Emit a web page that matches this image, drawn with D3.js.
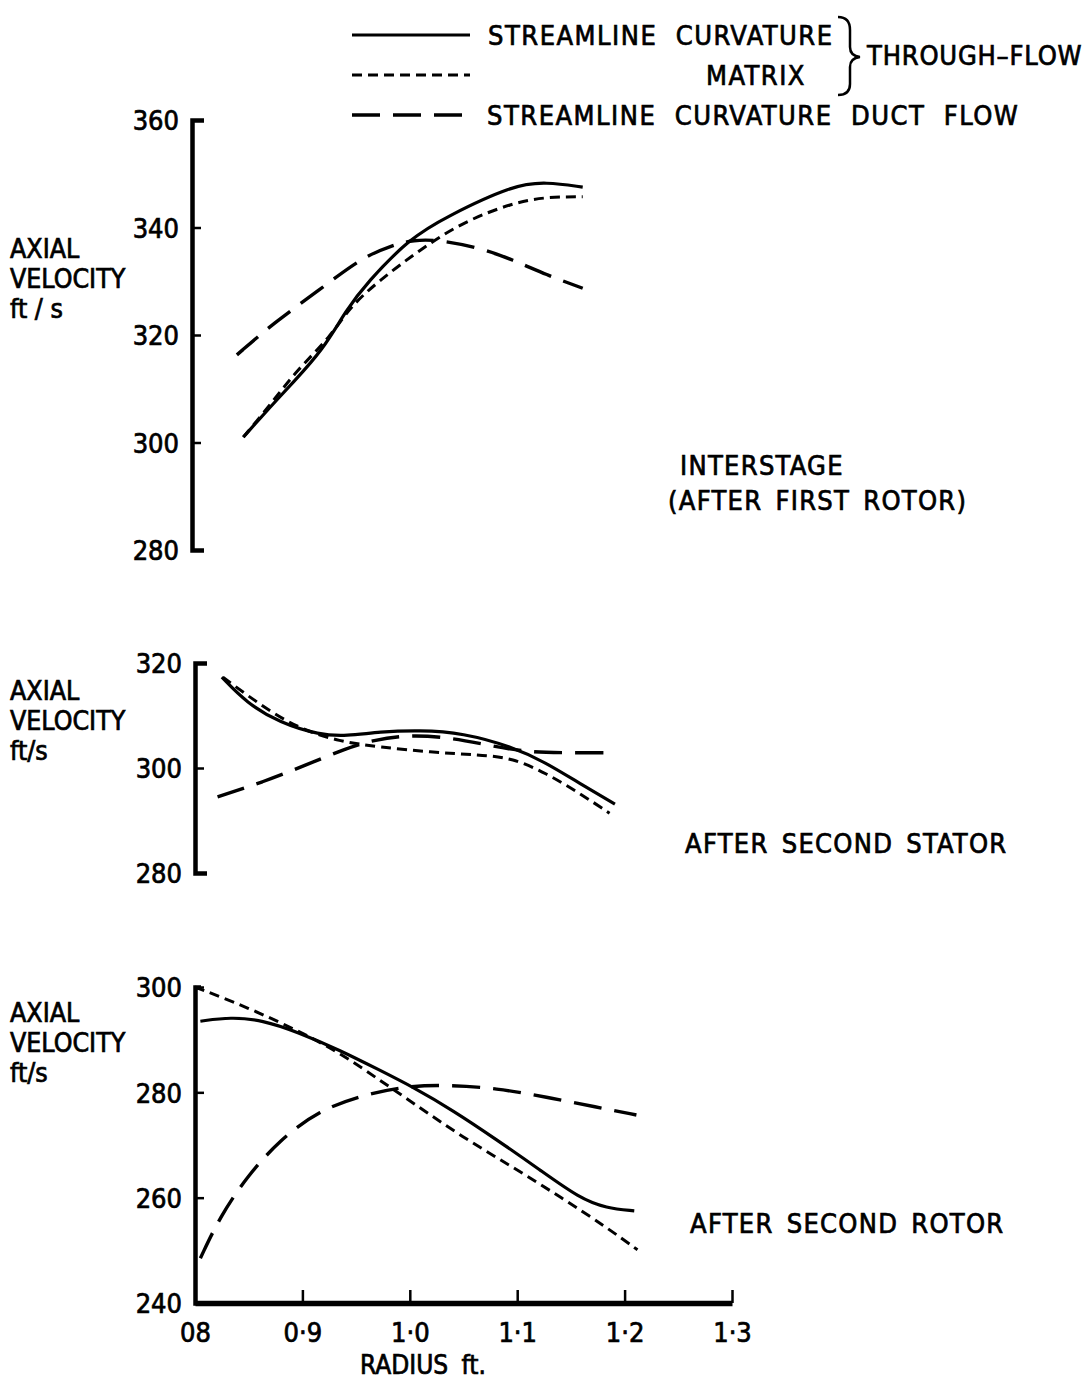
<!DOCTYPE html>
<html>
<head>
<meta charset="utf-8">
<script src="https://cdn.jsdelivr.net/npm/d3@7"></script>
<style>
  body { margin: 0; background: #fff; }
  svg text { font-family: "DejaVu Sans Condensed", "DejaVu Sans", sans-serif; fill: #000; stroke: #000; stroke-width: 0.7px; }
  .axis path, .axis line { stroke: #000; }
  .axis text { font-size: 27px; }
</style>
</head>
<body>
<svg id="chart" width="1092" height="1379"></svg>
<script>
/*
Axial velocity vs radius for three stations, three calculation methods
*/
var svg = d3.select("#chart");

// radius ticks along the bottom
var radiusTicks = [0.8, 0.9, 1.0, 1.1, 1.2, 1.3];
var radiusLabels = ["08", "0·9", "1·0", "1·1", "1·2", "1·3"];

// interstage (after first rotor) : [radius ft, axial velocity ft/s]
var interSC = [[0.845,301.0],[0.870,306.6],[0.891,311.1],[0.919,317.2],[0.941,324.7],[0.960,329.7],[1.000,338.0],[1.034,342.0],[1.096,347.9],[1.127,348.5],[1.161,347.5]];
var interMatrix = [[0.845,301.0],[0.870,307.0],[0.895,313.5],[0.926,319.6],[0.944,325.2],[0.972,330.2],[1.009,335.8],[1.049,341.0],[1.096,344.6],[1.127,345.7],[1.161,345.7]];
var interDuct = [[0.839,316.3],[0.873,322.2],[0.916,328.4],[0.956,334.5],[0.984,336.7],[1.003,337.7],[1.028,337.7],[1.065,336.2],[1.096,334.0],[1.127,331.2],[1.161,328.7]];

// after second stator
var statorSC = [[0.825,317.3],[0.848,312.4],[0.879,308.6],[0.916,306.3],[0.941,306.1],[0.972,306.9],[1.009,307.2],[1.049,306.7],[1.096,304.0],[1.127,301.0],[1.158,297.1],[1.191,293.1]];
var statorMatrix = [[0.826,317.3],[0.858,312.4],[0.895,307.6],[0.935,305.0],[0.972,304.0],[1.019,303.0],[1.065,302.5],[1.096,301.9],[1.127,299.0],[1.158,295.2],[1.186,291.4]];
var statorDuct = [[0.821,294.5],[0.863,297.3],[0.904,300.6],[0.941,303.8],[0.966,305.3],[0.997,306.3],[1.034,305.9],[1.072,304.4],[1.109,303.0],[1.142,302.9],[1.191,302.9]];

// after second rotor
var rotorSC = [[0.805,293.5],[0.833,294.3],[0.863,293.7],[0.895,291.5],[0.935,288.0],[0.972,284.2],[1.003,281.0],[1.040,276.6],[1.081,271.0],[1.121,265.3],[1.158,259.9],[1.183,258.0],[1.209,257.5]];
var rotorMatrix = [[0.800,300.0],[0.848,296.2],[0.895,291.8],[0.935,287.5],[0.972,282.3],[1.003,278.0],[1.049,271.5],[1.096,265.8],[1.142,259.9],[1.183,254.4],[1.212,250.1]];
var rotorDuct = [[0.805,248.5],[0.823,256.3],[0.848,263.9],[0.879,271.0],[0.916,276.6],[0.956,279.5],[0.997,281.2],[1.034,281.4],[1.081,280.8],[1.127,279.1],[1.174,277.2],[1.211,275.7]];

var panelTitles = [["INTERSTAGE", "(AFTER FIRST ROTOR)"], ["AFTER SECOND STATOR"], ["AFTER SECOND ROTOR"]];
var yTitles = [["AXIAL", "VELOCITY", "ft / s"], ["AXIAL", "VELOCITY", "ft/s"], ["AXIAL", "VELOCITY", "ft/s"]];
var yTicks = [[280, 300, 320, 340, 360], [280, 300, 320], [240, 260, 280, 300]];
var legendLabels = ["STREAMLINE  CURVATURE", "MATRIX", "STREAMLINE  CURVATURE  DUCT  FLOW", "THROUGH–FLOW"];

var styles = {
  sc: { width: 3.2, dash: null },
  matrix: { width: 3, dash: "10,6" },
  duct: { width: 3.4, dash: "28,13" }
};

var x = d3.scaleLinear().domain([0.8, 1.3]).range([195, 732]);

var panels = [
  { domain: [280, 360], range: [550, 120], axisX: 192, ticks: yTicks[0], series: [interSC, interMatrix, interDuct],
    titleY: 258, label: panelTitles[0], labelX: [680, 668], labelY: [475, 510] },
  { domain: [280, 320], range: [873, 663], axisX: 195, ticks: yTicks[1], series: [statorSC, statorMatrix, statorDuct],
    titleY: 700, label: panelTitles[1], labelX: [685], labelY: [853] },
  { domain: [240, 300], range: [1303, 987], axisX: 195, ticks: yTicks[2], series: [rotorSC, rotorMatrix, rotorDuct],
    titleY: 1022, label: panelTitles[2], labelX: [690], labelY: [1233] }
];

var line = d3.line().curve(d3.curveBasis);
var kinds = ["sc", "matrix", "duct"];

panels.forEach(function(p, i) {
  var y = d3.scaleLinear().domain(p.domain).range(p.range);
  var g = svg.append("g");

  var yAxis = d3.axisLeft(y)
      .tickValues(p.ticks)
      .tickSizeInner(-9)
      .tickSizeOuter(i == 2 ? -6 : -12)
      .tickPadding(13)
      .tickFormat(d3.format("d"));

  g.append("g")
      .attr("class", "axis")
      .attr("transform", "translate(" + p.axisX + ",0)")
      .call(yAxis)
      .call(function(a) {
        a.select(".domain").attr("stroke-width", 4.5).attr("fill", "none");
        a.selectAll(".tick line").attr("stroke-width", 2.5);
        a.selectAll("text").attr("dy", "0.36em");
      });

  yTitles[i].forEach(function(t, j) {
    g.append("text")
      .attr("x", 10)
      .attr("y", p.titleY + j * 30)
      .attr("font-size", 26.5)
      .text(t);
  });

  p.label.forEach(function(t, j) {
    g.append("text")
      .attr("x", p.labelX[j])
      .attr("y", p.labelY[j])
      .attr("font-size", 27)
      .attr("letter-spacing", 1.3)
      .attr("word-spacing", 4)
      .text(t);
  });

  p.series.forEach(function(s, k) {
    var st = styles[kinds[k]];
    g.append("path")
      .datum(s)
      .attr("fill", "none")
      .attr("stroke", "#000")
      .attr("stroke-width", st.width)
      .attr("stroke-dasharray", st.dash)
      .attr("d", line.x(function(d) { return x(d[0]); }).y(function(d) { return y(d[1]); }));
  });

  if (i == 2) {
    var xAxis = d3.axisBottom(x)
        .tickValues(radiusTicks)
        .tickSizeInner(-13)
        .tickSizeOuter(0)
        .tickPadding(16)
        .tickFormat(function(d, j) { return radiusLabels[j]; });
    g.append("g")
        .attr("class", "axis")
        .attr("transform", "translate(0," + p.range[0] + ")")
        .call(xAxis)
        .call(function(a) {
          a.select(".domain").attr("stroke-width", 5.5);
          a.selectAll(".tick line").attr("stroke-width", 2.5);
          a.selectAll("text").attr("dy", "0.85em");
        });
    g.append("text")
      .attr("x", 423)
      .attr("y", 1374)
      .attr("text-anchor", "middle")
      .attr("font-size", 26)
      .attr("word-spacing", 6)
      .text("RADIUS ft.");
  }
});

// legend
var legend = svg.append("g");
var legendRows = [
  { kind: "sc", y: 35, text: legendLabels[0], tx: 488 },
  { kind: "matrix", y: 75, text: legendLabels[1], tx: 706 },
  { kind: "duct", y: 115, text: legendLabels[2], tx: 487 }
];
legendRows.forEach(function(r) {
  var st = styles[r.kind];
  legend.append("line")
    .attr("x1", 352).attr("x2", 470)
    .attr("y1", r.y).attr("y2", r.y)
    .attr("stroke", "#000")
    .attr("stroke-width", st.width)
    .attr("stroke-dasharray", st.dash);
  legend.append("text")
    .attr("x", r.tx)
    .attr("y", r.y + 10)
    .attr("font-size", 27)
    .attr("letter-spacing", 1.5)
    .attr("xml:space", "preserve")
    .text(r.text);
});

legend.append("path")
  .attr("d", "M838,17 Q850,17 850,30 L850,47 Q850,56 860,57 Q850,58 850,67 L850,84 Q850,95 838,95")
  .attr("fill", "none")
  .attr("stroke", "#000")
  .attr("stroke-width", 2.5);

legend.append("text")
  .attr("x", 867)
  .attr("y", 65)
  .attr("font-size", 27)
  .attr("letter-spacing", 0.8)
  .text(legendLabels[3]);
</script>
</body>
</html>
